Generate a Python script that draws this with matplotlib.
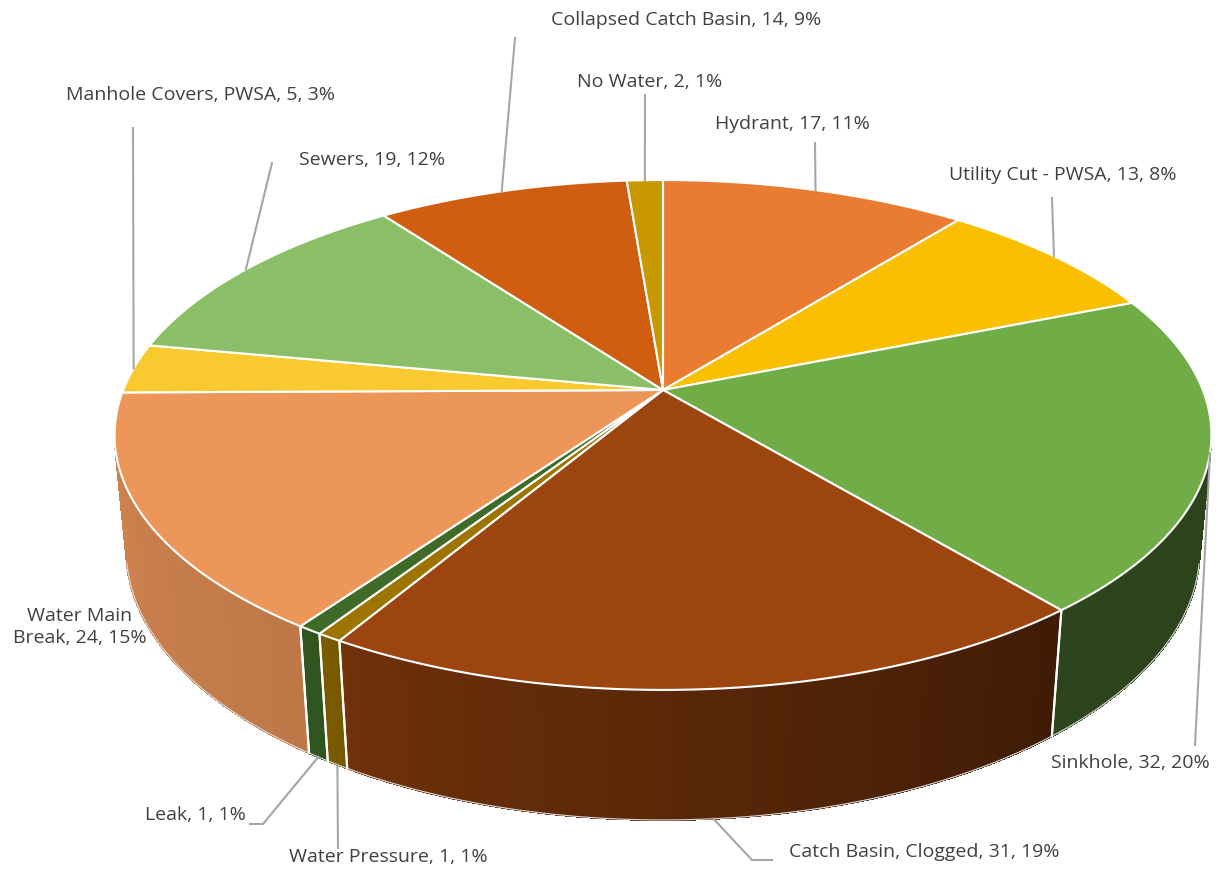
import numpy as np
import matplotlib.pyplot as plt
from matplotlib.patches import Polygon
from matplotlib.colors import to_rgb

# slices, clockwise from 12 o'clock
categories = ["Hydrant", "Utility Cut - PWSA", "Sinkhole", "Catch Basin, Clogged",
              "Water Pressure", "Leak", "Water Main\nBreak", "Manhole Covers, PWSA",
              "Sewers", "Collapsed Catch Basin", "No Water"]
values = [17, 13, 32, 31, 1, 1, 24, 5, 19, 14, 2]
colors = ["#E97C30", "#FABF00", "#70AD47", "#9C450E", "#9E7400", "#3E6B28",
          "#ED965A", "#F8CA30", "#8ABF67", "#D05E10", "#C89800"]

# label layout (pixel coords): text position, leader points near the label
label_pos = [(792, 124), (1063, 175), (1130, 763), (924, 852), (388, 857), (195, 815),
             (80, 627), (200, 95), (372, 160), (686, 20), (650, 82)]
leader_pts = [[(815, 143)], [(1052, 198)], [(1195, 745)], [(772, 860), (752, 860)],
              [(338, 848)], [(250, 824), (263, 824)], [], [(133, 128)],
              [(272, 163)], [(515, 38)], [(645, 95)]]
leader_to_bottom = [False, False, False, True, True, True, False, False, False, False, False]

# simple perspective camera
sin_e = 0.4507
cos_e = np.sqrt(1 - sin_e ** 2)
D = 5.06
h = 0.2375
cx, cy, scale, xstretch = 663, 390, 2773, 0.985


def project(theta, z=0.0, r=1.0):
    t = np.radians(theta)
    X = r * np.sin(t)
    Py = r * np.cos(t) + D * cos_e
    Pz = z - D * sin_e
    depth = cos_e * Py - sin_e * Pz
    u = X / depth
    v = (sin_e * Py + cos_e * Pz) / depth
    return cx + scale * xstretch * u, cy - scale * v


def shade(theta):
    return np.interp(theta, [103, 140, 210, 211, 215, 257], [0.39, 0.40, 0.71, 0.77, 0.80, 0.87])


total = sum(values)
edges = np.concatenate([[0], np.cumsum(values)]) / total * 360
vis_lo = np.degrees(np.arccos(-1 / (D * cos_e)))
vis_hi = 360 - vis_lo

fig = plt.figure(figsize=(12.28, 8.73), dpi=100)
ax = fig.add_axes([0, 0, 1, 1])
ax.set_xlim(0, 1228)
ax.set_ylim(873, 0)
ax.axis("off")

# side walls
for i, col in enumerate(colors):
    a1, a2 = max(edges[i], vis_lo), min(edges[i + 1], vis_hi)
    if a2 <= a1:
        continue
    base = np.array(to_rgb(col))
    steps = np.linspace(a1, a2, max(3, int((a2 - a1) * 2)))
    for t1, t2 in zip(steps[:-1], steps[1:]):
        c = np.clip(base * shade((t1 + t2) / 2), 0, 1)
        pts = [project(t1), project(t2), project(t2, -h), project(t1, -h)]
        ax.add_patch(Polygon(pts, closed=True, facecolor=c, edgecolor=c, lw=0.8,
                             antialiased=False, zorder=1))
    ts = np.linspace(a1, a2, 60)
    bx, by = zip(*[project(t, -h) for t in ts])
    ax.plot(bx, by, color="#D9D9D9", lw=0.8, zorder=2)
    for a in (edges[i], edges[i + 1]):
        if vis_lo < a < vis_hi:
            x0, y0 = project(a)
            x1, y1 = project(a, -h)
            ax.plot([x0, x1], [y0, y1], color="white", lw=1.5, zorder=2)

# top faces
center = project(0, 0, r=0)
for i, col in enumerate(colors):
    ts = np.linspace(edges[i], edges[i + 1], max(4, int(values[i] * 6)))
    pts = [center] + [project(t) for t in ts]
    ax.add_patch(Polygon(pts, closed=True, facecolor=col, edgecolor="white", lw=1.5,
                         joinstyle="round", zorder=3))

# labels and leader lines
for i, cat in enumerate(categories):
    pct = round(values[i] / total * 100)
    txt = f"{cat}, {values[i]}, {pct}%"
    x, y = label_pos[i]
    ax.text(x, y, txt, ha="center", va="center", fontsize=14, color="#404040",
            family=["Open Sans", "DejaVu Sans"], linespacing=1.3, zorder=5)
    if leader_pts[i]:
        mid = (edges[i] + edges[i + 1]) / 2
        end = project(mid, -h) if leader_to_bottom[i] else project(mid)
        lx, ly = zip(*(leader_pts[i] + [end]))
        ax.plot(lx, ly, color="#A6A6A6", lw=1.5, zorder=4)

fig.savefig("out.png", dpi=100)
